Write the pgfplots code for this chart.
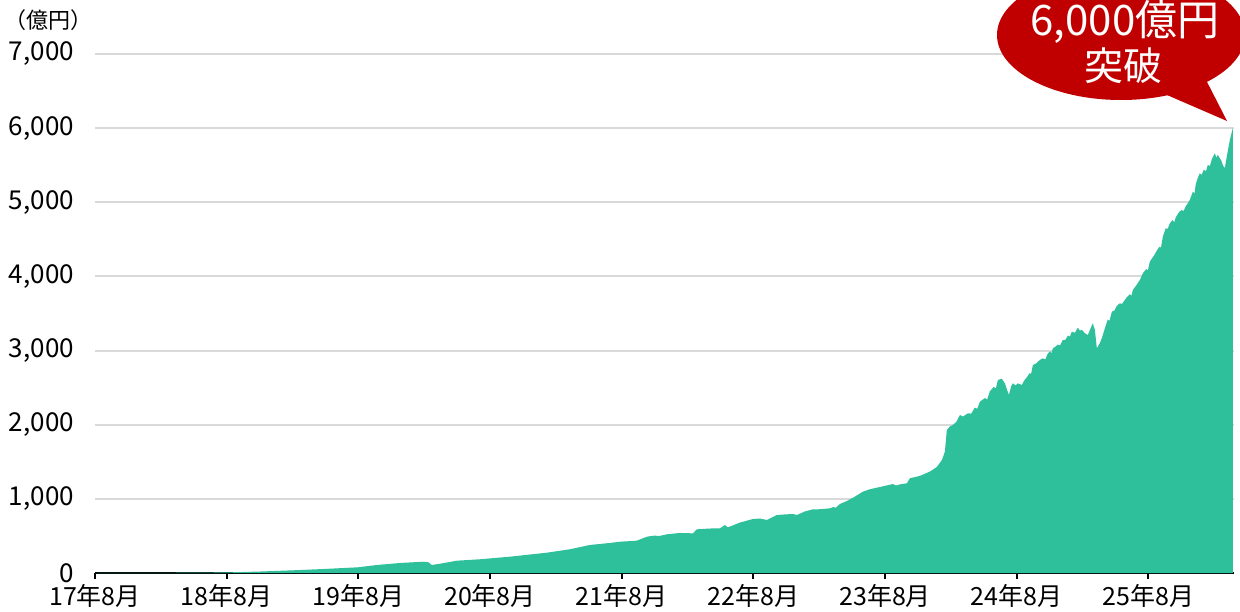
\documentclass[border=0pt]{standalone}
\usepackage{pgfplots}
\pgfplotsset{compat=1.18}
\usepackage{fontspec}
\setmainfont{Noto Sans CJK JP}
\definecolor{areagreen}{RGB}{46,191,155}
\definecolor{calloutred}{RGB}{192,0,0}
\definecolor{gridgray}{RGB}{217,217,217}
\pgfplotsset{
  layers/mylayers/.define layer set={axis background,axis grid,main,axis ticks,axis lines,axis tick labels,axis descriptions,axis foreground}{},
}
\begin{document}
\begin{tikzpicture}
\begin{axis}[
  set layers=mylayers,
  at={(47.5pt,19pt)}, anchor=origin,
  scale only axis, width=569.5pt, height=259.5pt,
  xmin=0, xmax=103.8, ymin=0, ymax=7000,
  axis x line=bottom, axis y line=left,
  x axis line style={-, black, line width=1pt},
  y axis line style={draw=none},
  xtick={0,12,...,96},
  xticklabels={17年8月,18年8月,19年8月,20年8月,21年8月,22年8月,23年8月,24年8月,25年8月},
  ytick={0,1000,...,7000},
  tick align=outside, major tick length=3pt,
  xtick style={black, line width=1pt},
  ytick style={draw=none},
  ymajorgrids, grid style={gridgray, line width=1pt},
  /pgf/number format/assume math mode=true,
  /pgf/number format/1000 sep={,},
  yticklabel style={font=\fontsize{13}{13}\selectfont, xshift=-4pt},
  xticklabel style={font=\fontsize{12.5}{12.5}\selectfont, yshift=1pt},
]
\addplot[fill=areagreen, draw=none] coordinates {
(0,0) (5.92,2) (12.03,8) (15.03,20) (18.68,40) (21.41,58) (23.96,77) (25.69,108)
(27.79,135) (29.89,152) (30.34,148) (30.71,108) (31.44,125) (32.98,166) (35.08,185)
(37.81,220) (41.18,274) (43.28,320) (45.10,378) (46.92,405) (47.84,422) (49.38,436)
(50.30,490) (51.0,505) (51.4,498) (52.12,522) (53.30,540) (54.49,535) (54.85,589) (56.04,600) (56.95,603)
(57.40,647) (57.68,616) (58.77,680) (59.95,728) (60.59,735) (61.23,715) (62.14,782)
(62.87,790) (63.60,796) (63.96,782) (64.69,830) (65.42,859) (66.06,860) (66.97,872)
(67.3,890) (67.5,880) (67.88,930) (68.52,971) (69.25,1030) (69.98,1097) (70.62,1130) (71.53,1160) (72.71,1200)
(73.0,1180) (73.35,1195) (73.99,1210) (74.26,1277) (75.17,1310) (76.08,1367) (76.72,1430) (77.18,1524)
(77.45,1636) (77.63,1929) (77.9,1975) (78.18,1996) (78.5,2040) (78.82,2131) (79.1,2110) (79.54,2154)
(79.85,2150) (80.18,2230) (80.4,2215) (80.64,2310) (81.1,2360) (81.3,2340) (81.55,2450) (81.9,2510)
(82.1,2490) (82.28,2603) (82.64,2620) (82.92,2558) (83.28,2401) (83.5,2520) (83.64,2558) (83.9,2530)
(84.10,2558) (84.46,2536) (84.7,2600) (84.92,2640) (85.2,2700) (85.3,2680) (85.47,2805) (85.8,2830)
(86.10,2873) (86.38,2895) (86.6,2880) (86.83,2960) (87.05,2990) (87.15,2960) (87.29,3030) (87.5,3050)
(87.74,3080) (87.95,3070) (88.20,3143) (88.4,3140) (88.66,3200) (88.85,3190) (89.02,3255) (89.3,3240)
(89.57,3309) (89.75,3270) (89.93,3280) (90.21,3233) (90.48,3210) (90.7,3290) (90.93,3368) (91.12,3278)
(91.30,3030) (91.57,3100) (91.75,3165) (92.03,3300) (92.3,3420) (92.45,3400) (92.67,3525) (92.9,3540)
(93.1,3600) (93.39,3637) (93.6,3630) (94.03,3720) (94.3,3760) (94.45,3740) (94.58,3817) (94.9,3880)
(95.22,3952) (95.49,4042) (95.8,4100) (95.95,4080) (96.13,4200) (96.5,4280) (96.77,4350) (97.0,4400)
(97.15,4390) (97.31,4536) (97.58,4650) (97.75,4640) (97.95,4716) (98.2,4760) (98.35,4730) (98.50,4800)
(98.8,4870) (99.04,4896) (99.2,4880) (99.41,4950) (99.6,4990) (99.77,5031) (100.05,5143) (100.2,5120)
(100.32,5250) (100.5,5330) (100.68,5391) (100.85,5370) (101.05,5440) (101.25,5420) (101.41,5503)
(101.6,5490) (101.78,5580) (102.05,5661) (102.2,5600) (102.32,5640) (102.51,5593) (102.65,5560)
(102.78,5500) (102.96,5458) (103.14,5616) (103.42,5840) (103.69,6000) (103.69,0)
} \closedcycle;
\end{axis}
\node[font=\fontsize{11}{11}\selectfont, anchor=center] at (24pt,295.5pt) {（億円）};
\begin{scope}
\clip (0,0) rectangle (620pt,305.5pt);
\fill[calloutred] (560.5pt,288pt) ellipse [x radius=62pt, y radius=32.5pt];
\fill[calloutred] (580pt,259.5pt) -- (613.5pt,245pt) -- (602.5pt,266.5pt) -- cycle;
\node[white, font=\fontsize{21}{21}\selectfont] at (562.5pt,294.3pt) {6,000億円};
\node[white, font=\fontsize{19.5}{19.5}\selectfont] at (561.5pt,272.5pt) {突破};
\end{scope}
\pgfresetboundingbox
\path[use as bounding box] (0,0) rectangle (620pt,305.5pt);
\end{tikzpicture}
\end{document}
